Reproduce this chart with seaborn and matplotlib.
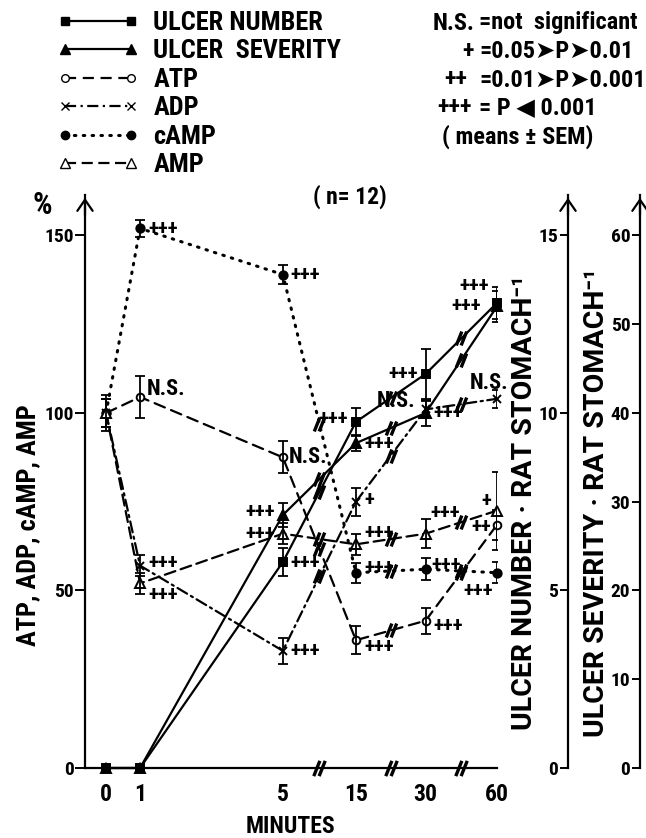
import numpy as np
import pandas as pd
import matplotlib
matplotlib.use("Agg")
import matplotlib.pyplot as plt
import seaborn as sns
from matplotlib.path import Path
from matplotlib.lines import Line2D

# ---------------- data ----------------
minutes = [0, 1, 5, 15, 30, 60]
minute_labels = ["0", "1", "5", "15", "30", "60"]

ulcer_number = [0.0, 0.0, 5.8, 9.75, 11.1, 13.1]
ulcer_number_sem = [0, 0, 0.4, 0.4, 0.7, 0.45]
ulcer_number_sig = ["", "", "+++", "+++", "+++", "+++"]

ulcer_severity = [0.0, 0.0, 28.5, 36.6, 40.0, 52.0]
ulcer_severity_sem = [0, 0, 1.4, 0.9, 1.5, 1.7]
ulcer_severity_sig = ["", "", "+++", "+++", "+++", "+++"]

atp = [100, 104.5, 87.5, 36, 41.5, 68.5]
atp_sem = [5, 6, 4.5, 4, 3.7, 4.2]
atp_sig = ["", "N.S.", "N.S.", "+++", "+++", "++"]

adp = [100, 57, 33, 75, 101, 104]
adp_sem = [4, 3, 3.7, 4, 2.3, 2.5]
adp_sig = ["", "+++", "+++", "+", "N.S.", "N.S."]

camp = [100, 152, 139, 55, 56, 55]
camp_sem = [4, 2.3, 2.6, 2.8, 3.1, 3]
camp_sig = ["", "+++", "+++", "+++", "+++", "+++"]

amp = [100, 52, 66, 63, 66, 72.5]
amp_sem = [4, 3, 3, 3, 4, 11]
amp_sig = ["", "+++", "+++", "+++", "+++", "+"]

left_ticks = [0, 50, 100, 150]
number_ticks = [0, 5, 10, 15]
severity_ticks = [0, 10, 20, 30, 40, 50, 60]

legend_labels = ["ULCER NUMBER", "ULCER  SEVERITY", "ATP", "ADP", "cAMP", "AMP"]
key_rows = [("N.S.", "=not  significant"), ("+", "=0.05➤P➤0.01"),
            ("++", "=0.01➤P➤0.001"), ("+++", "= P ◀ 0.001")]

# ---------------- layout / style ----------------
W, H = 646, 838
FONT = ["Roboto Condensed", "Roboto", "DejaVu Sans"]
WIDE = ["Roboto", "DejaVu Sans"]
sns.set_style("white")
plt.rcParams["font.family"] = FONT
plt.rcParams["font.weight"] = "bold"
plt.rcParams["axes.linewidth"] = 1.6
for k in ("text.color", "axes.labelcolor", "xtick.color", "ytick.color", "axes.edgecolor"):
    plt.rcParams[k] = "black"

# broken minute axis: piecewise-linear scale
brk_min = np.array([-10, 0, 1, 5, 15, 30, 60, 100], dtype=float)
brk_pos = np.array([-10, 0, 1, 5.2, 7.35, 9.4, 11.5, 51.5])
def fwd(m):
    return np.interp(m, brk_min, brk_pos)
def inv(p):
    return np.interp(p, brk_pos, brk_min)

YTOP = 161.4
fig = plt.figure(figsize=(W / 100, H / 100), dpi=100)
ax = fig.add_axes([85 / W, 70 / H, 412 / W, 573 / H])
ax.set_xscale("function", functions=(fwd, inv))
ax.set_xlim(-0.62, 60)
ax.set_ylim(0, YTOP)

ax_num = ax.twinx()
ax_sev = ax.twinx()
ax_num.set_ylim(0, YTOP / 10)
ax_sev.set_ylim(0, YTOP / 2.5)

for a in (ax, ax_num, ax_sev):
    for s in a.spines.values():
        s.set_visible(False)
        s.set_linewidth(1.6)
ax.spines["left"].set_visible(True)
ax.spines["bottom"].set_visible(True)

ARROW = dict(arrowstyle="->,head_length=0.8,head_width=0.55", lw=1.6, color="black")
num_x = (568 - 85) / 412
sev_x = (640 - 85) / 412
for a, xpos, ticks in ((ax_num, num_x, number_ticks), (ax_sev, sev_x, severity_ticks)):
    a.spines["left"].set_visible(True)
    a.spines["left"].set_position(("axes", xpos))
    a.yaxis.tick_left()
    a.set_yticks(ticks)
    a.set_yticklabels([str(t) for t in ticks])
    a.tick_params(axis="y", direction="out", length=6, width=1.4, labelsize=14, pad=1)
    a.annotate("", xy=(xpos, 1.0), xycoords="axes fraction", xytext=(xpos, 0.96),
               arrowprops=ARROW, annotation_clip=False)

ax.set_yticks(left_ticks)
ax.set_yticklabels([str(t) for t in left_ticks])
ax.tick_params(axis="y", direction="out", length=7, width=1.4, labelsize=14, pad=1)
ax.set_xticks(minutes)
ax.set_xticks([], minor=True)
ax.set_xticklabels(minute_labels)
ax.tick_params(axis="x", direction="out", length=5, width=1.4, labelsize=17, pad=6)
ax.annotate("", xy=(0, 1.0), xycoords="axes fraction", xytext=(0, 0.96),
            arrowprops=ARROW, annotation_clip=False)

# break marker
brk_path = Path([(-0.75, -1), (0.05, 1), (-0.05, -1), (0.75, 1)],
                [Path.MOVETO, Path.LINETO, Path.MOVETO, Path.LINETO])
pos = fwd(np.array(minutes, dtype=float))
mid_pos = (pos[2:-1] + pos[3:]) / 2
mid_min = inv(mid_pos)
ax.plot(mid_min, np.zeros_like(mid_min), ls="none", marker=brk_path, ms=11, mew=2.4,
        mec="black", mfc="none", clip_on=False, zorder=6)

series = [
    # axis, values, sem, sig, marker, facecolor, linestyle, lw, ms, offsets(px dx, dy, ha)
    (ax_num, ulcer_number, ulcer_number_sem, ulcer_number_sig, "s", "black", "-", 1.6, 6,
     [None, None, (8, 0, "left"), (-8, 3, "right"), (-8, 0, "right"), (-16, -3, "right")]),
    (ax_sev, ulcer_severity, ulcer_severity_sem, ulcer_severity_sig, "^", "black", "-", 1.6, 7,
     [None, None, (-8, 4, "right"), (8, 0, "left"), (8, 0, "left"), (-8, 21, "right")]),
    (ax, atp, atp_sem, atp_sig, "o", "white", (0, (5, 3)), 1.6, 5.5,
     [None, (7, 8, "left"), (6, 0, "left"), (8, -6, "left"), (8, -5, "left"), (-6, -2, "right")]),
    (ax, adp, adp_sem, adp_sig, "x", "black", (0, (5, 2, 1, 2)), 1.6, 6,
     [None, (8, 3, "left"), (8, 0, "left"), (8, 2, "left"), (-10, 8, "right"), (-8, 16, "center")]),
    (ax, camp, camp_sem, camp_sig, "o", "black", (0, (0.5, 2.4)), 2.2, 6,
     [None, (8, 0, "left"), (8, 0, "left"), (8, 5, "left"), (6, 5, "left"), (-4, -18, "right")]),
    (ax, amp, amp_sem, amp_sig, "^", "white", (0, (5, 2.5)), 1.6, 6.5,
     [None, (8, -11, "left"), (-8, 0, "right"), (8, 12, "left"), (5, 21, "left"), (-6, 10, "right")]),
]

for a, vals, sem, sig, mk, fc, ls, lw, ms, offs in series:
    df = pd.DataFrame({"minutes": minutes, "value": vals})
    sns.lineplot(data=df, x="minutes", y="value", ax=a, color="black", marker=mk,
                 markerfacecolor=fc, markeredgecolor="black", markeredgewidth=1.4,
                 markersize=ms, linestyle=ls, linewidth=lw, errorbar=None, legend=False,
                 dash_capstyle="round", clip_on=False, zorder=4)
    sem_arr = np.array(sem, dtype=float)
    msk = sem_arr > 0
    a.errorbar(np.array(minutes)[msk], np.array(vals)[msk], yerr=sem_arr[msk], fmt="none",
               ecolor="black", elinewidth=1.3, capsize=3.5, capthick=1.3, zorder=4)
    yb = np.interp(mid_pos, pos, np.array(vals, dtype=float))
    a.plot(mid_min, yb, ls="none", marker=brk_path, ms=10, mew=2.4, mec="black",
           mfc="none", zorder=5)
    for i, s in enumerate(sig):
        if s and offs[i] is not None:
            dx, dy, ha = offs[i]
            a.annotate(s, (minutes[i], vals[i]), xytext=(dx * 0.72, dy * 0.72),
                       textcoords="offset points", ha=ha, va="center",
                       fontsize=15 if s.startswith("+") else 16, fontweight="bold",
                       annotation_clip=False)

ax.set_xlabel("")
ax.set_ylabel("")
ax_num.set_ylabel("")
ax_sev.set_ylabel("")

def ftxt(x, y, s, **kw):
    kw.setdefault("va", "center")
    kw.setdefault("fontweight", "bold")
    fig.text(x / W, 1 - y / H, s, **kw)

ftxt(42, 205, "%", ha="center", fontsize=22)
ftxt(350, 197, "( n= 12)", ha="center", fontsize=17)
ftxt(290, 826, "MINUTES", ha="center", fontsize=17)
ftxt(28, 525, "ATP, ADP, cAMP, AMP", rotation=90, ha="center", fontsize=19)
ftxt(524, 503, "ULCER NUMBER · RAT STOMACH⁻¹", rotation=90, ha="center", fontsize=20.5,
     family=WIDE)
ftxt(597, 503, "ULCER SEVERITY · RAT STOMACH⁻¹", rotation=90, ha="center", fontsize=20.5,
     family=WIDE)

# significance key (top right)
sym_x = [474, 468, 456, 455]
sym_ha = ["right", "center", "center", "center"]
for (sym, txt), y, sx, sha in zip(key_rows, [23, 51, 80, 108], sym_x, sym_ha):
    ftxt(sx, y, sym, ha=sha, fontsize=17.5)
    ftxt(479, y, txt, ha="left", fontsize=17.5)
ftxt(442, 137, "( means ± SEM)", ha="left", fontsize=17.5)

# legend (top left)
handles = [
    Line2D([], [], color="black", marker="s", mfc="black", ls="-", lw=1.6, ms=6),
    Line2D([], [], color="black", marker="^", mfc="black", ls="-", lw=1.6, ms=7),
    Line2D([], [], color="black", marker="o", mfc="white", ls=(0, (5, 3)), lw=1.6, ms=5.5),
    Line2D([], [], color="black", marker="x", ls=(0, (5, 2, 1, 2)), lw=1.6, ms=6),
    Line2D([], [], color="black", marker="o", mfc="black", ls=(0, (0.5, 2.4)), lw=2.2, ms=6,
           dash_capstyle="round"),
    Line2D([], [], color="black", marker="^", mfc="white", ls=(0, (5, 2.5)), lw=1.6, ms=6.5),
]
fig.legend(handles, legend_labels, loc="upper left", bbox_to_anchor=(57 / W, 1 - 11 / H),
           frameon=False, numpoints=2, handlelength=3.1, handletextpad=0.55,
           labelspacing=0.17, borderpad=0, borderaxespad=0,
           prop={"size": 19, "weight": "bold", "family": FONT})

fig.savefig("out.png", dpi=100)
